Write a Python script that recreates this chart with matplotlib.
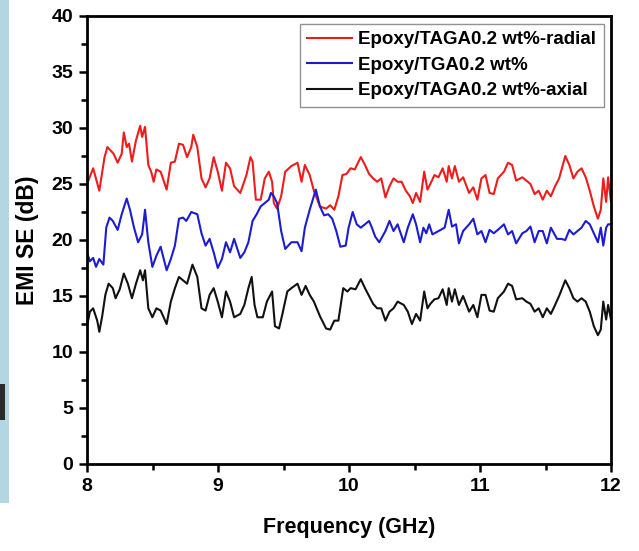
import matplotlib
matplotlib.use("Agg")
import matplotlib.pyplot as plt
from matplotlib.patches import Rectangle
from matplotlib.ticker import MultipleLocator

plt.rcParams['font.family'] = ['Liberation Sans', 'DejaVu Sans']
plt.rcParams['font.weight'] = 'bold'

# ---------------- data ----------------
freq_radial = [8.000, 8.047, 8.094, 8.134, 8.156, 8.203, 8.234, 8.265, 8.281, 8.303, 8.321, 8.343,
               8.374, 8.406, 8.421, 8.443, 8.468, 8.490, 8.509, 8.530, 8.562, 8.608, 8.640, 8.671,
               8.702, 8.733, 8.764, 8.796, 8.811, 8.842, 8.874, 8.905, 8.936, 8.967, 8.998, 9.030,
               9.061, 9.092, 9.123, 9.170, 9.217, 9.248, 9.264, 9.289, 9.326, 9.357, 9.388, 9.413,
               9.426, 9.451, 9.482, 9.513, 9.560, 9.607, 9.638, 9.663, 9.700, 9.732, 9.778, 9.825,
               9.856, 9.888, 9.919, 9.950, 9.981, 10.012, 10.044, 10.090, 10.122, 10.153, 10.184,
               10.215, 10.246, 10.278, 10.309, 10.340, 10.371, 10.402, 10.434, 10.465, 10.487,
               10.512, 10.543, 10.574, 10.599, 10.621, 10.652, 10.683, 10.715, 10.746, 10.761,
               10.786, 10.808, 10.839, 10.871, 10.917, 10.949, 10.980, 11.011, 11.042, 11.073,
               11.105, 11.136, 11.183, 11.214, 11.245, 11.276, 11.323, 11.354, 11.385, 11.417,
               11.448, 11.479, 11.510, 11.541, 11.573, 11.604, 11.651, 11.682, 11.713, 11.744,
               11.775, 11.807, 11.838, 11.869, 11.900, 11.922, 11.941, 11.963, 11.978, 12.000]
se_radial = [25.0, 26.4, 24.4, 27.4, 28.3, 27.7, 26.9, 27.7, 29.6, 28.3, 28.6, 27.0,
             28.9, 30.2, 29.2, 30.1, 26.7, 26.1, 25.2, 26.3, 26.1, 24.5, 26.9, 27.0,
             28.6, 28.5, 27.4, 28.3, 29.4, 28.3, 25.5, 24.7, 25.5, 27.4, 26.1, 24.4,
             26.9, 26.4, 24.8, 24.2, 25.8, 27.4, 27.0, 23.6, 23.6, 25.5, 26.1, 25.2,
             23.3, 22.8, 23.9, 26.1, 26.6, 26.9, 25.2, 26.7, 25.8, 24.4, 23.0, 22.8,
             23.1, 22.7, 23.9, 25.8, 25.9, 26.4, 26.3, 27.4, 26.7, 25.9, 25.5,
             25.2, 25.5, 23.8, 24.8, 25.5, 25.2, 25.2, 24.4, 23.9, 23.3,
             24.2, 23.4, 26.1, 24.5, 25.0, 25.8, 25.6, 26.4, 25.2, 26.6,
             25.5, 26.6, 25.2, 25.6, 24.2, 24.7, 23.6, 25.5, 25.8, 24.2,
             24.1, 25.5, 26.1, 26.9, 26.7, 25.3, 25.6, 25.3, 25.0, 24.1,
             24.4, 23.6, 24.4, 23.9, 24.8, 25.5, 27.5, 26.7, 25.5, 26.1,
             26.4, 25.6, 24.4, 23.0, 21.9, 22.7, 25.5, 23.4, 25.6, 23.4]

freq_tga = [8.000, 8.022, 8.047, 8.069, 8.094, 8.125, 8.147, 8.172, 8.197, 8.234, 8.265, 8.303,
            8.328, 8.359, 8.390, 8.421, 8.443, 8.468, 8.499, 8.530, 8.562, 8.608, 8.640, 8.671,
            8.702, 8.733, 8.758, 8.796, 8.842, 8.874, 8.905, 8.936, 8.967, 8.998, 9.030, 9.061,
            9.092, 9.123, 9.170, 9.201, 9.232, 9.264, 9.295, 9.326, 9.357, 9.388, 9.404, 9.426,
            9.451, 9.482, 9.513, 9.560, 9.607, 9.638, 9.663, 9.700, 9.747, 9.778, 9.810, 9.841,
            9.872, 9.903, 9.934, 9.975, 9.997, 10.028, 10.059, 10.090, 10.122, 10.153, 10.175,
            10.200, 10.231, 10.278, 10.309, 10.340, 10.371, 10.418, 10.449, 10.487, 10.512,
            10.543, 10.568, 10.590, 10.612, 10.637, 10.683, 10.730, 10.761, 10.786, 10.817,
            10.839, 10.871, 10.917, 10.949, 10.980, 11.011, 11.042, 11.073, 11.105, 11.136,
            11.183, 11.214, 11.245, 11.276, 11.323, 11.354, 11.385, 11.417, 11.448, 11.479,
            11.510, 11.541, 11.588, 11.620, 11.651, 11.682, 11.713, 11.744, 11.775, 11.807,
            11.838, 11.869, 11.900, 11.922, 11.941, 11.963, 11.978, 12.000]
se_tga = [18.9, 18.1, 18.4, 17.6, 18.3, 17.8, 21.1, 22.0, 21.7, 20.9, 22.3, 23.7,
          22.7, 21.1, 19.8, 20.5, 22.7, 19.8, 17.6, 18.6, 19.4, 17.3, 18.3, 19.5,
          21.9, 22.0, 21.7, 22.5, 22.3, 20.6, 19.5, 20.1, 18.9, 17.5, 18.3, 19.8,
          18.9, 20.1, 18.4, 18.9, 19.8, 21.7, 22.3, 23.0, 23.3, 23.6, 24.2, 23.9,
          23.3, 20.8, 19.2, 19.8, 19.8, 19.0, 21.1, 22.7, 24.5, 23.0, 22.2, 22.3,
          21.9, 20.8, 19.4, 19.5, 21.1, 22.5, 21.4, 21.1, 21.4, 21.7, 21.1,
          20.3, 19.8, 20.8, 21.7, 20.8, 21.4, 19.8, 21.1, 22.3, 21.4,
          19.8, 21.1, 20.6, 21.4, 20.5, 20.8, 21.1, 22.7, 21.2, 21.4,
          19.7, 20.8, 21.4, 21.9, 20.5, 20.8, 19.8, 20.9, 20.6, 20.9,
          21.4, 20.5, 20.8, 19.7, 20.6, 20.8, 21.2, 19.8, 20.8, 20.8,
          19.7, 21.1, 20.1, 20.1, 20.0, 20.9, 20.5, 20.8, 21.1, 21.7,
          21.4, 20.6, 19.8, 21.1, 19.5, 21.1, 21.4, 21.4]

freq_axial = [8.000, 8.022, 8.047, 8.078, 8.094, 8.116, 8.140, 8.165, 8.197, 8.218, 8.250, 8.281,
              8.312, 8.343, 8.374, 8.406, 8.427, 8.443, 8.468, 8.499, 8.530, 8.562, 8.608, 8.640,
              8.671, 8.702, 8.733, 8.764, 8.805, 8.842, 8.874, 8.905, 8.936, 8.967, 8.998, 9.030,
              9.061, 9.092, 9.123, 9.170, 9.201, 9.232, 9.257, 9.279, 9.301, 9.342, 9.373, 9.413,
              9.435, 9.466, 9.488, 9.529, 9.560, 9.607, 9.638, 9.669, 9.700, 9.732, 9.778, 9.825,
              9.856, 9.888, 9.919, 9.956, 9.988, 10.012, 10.050, 10.090, 10.122, 10.153, 10.184,
              10.215, 10.246, 10.278, 10.309, 10.340, 10.371, 10.418, 10.449, 10.480, 10.512,
              10.543, 10.574, 10.599, 10.621, 10.652, 10.683, 10.715, 10.746, 10.761, 10.786,
              10.808, 10.839, 10.871, 10.917, 10.949, 10.980, 11.011, 11.042, 11.073, 11.105,
              11.136, 11.183, 11.214, 11.245, 11.276, 11.323, 11.354, 11.385, 11.417, 11.448,
              11.479, 11.510, 11.541, 11.573, 11.604, 11.651, 11.682, 11.713, 11.744, 11.775,
              11.807, 11.838, 11.869, 11.900, 11.922, 11.941, 11.963, 11.978, 12.000]
se_axial = [12.3, 13.6, 13.9, 12.8, 11.8, 13.2, 15.1, 16.1, 15.7, 14.8, 15.6, 17.0,
            16.1, 14.8, 16.1, 17.3, 16.4, 17.3, 13.9, 13.1, 13.9, 13.7, 12.5, 14.5,
            15.7, 16.7, 16.4, 16.1, 17.8, 16.7, 13.9, 13.7, 15.1, 15.7, 14.5, 13.1,
            15.4, 14.5, 13.1, 13.4, 14.2, 15.7, 16.7, 14.2, 13.1, 13.1, 14.5, 15.4,
            12.3, 12.1, 13.2, 15.4, 15.7, 16.1, 15.1, 15.9, 15.1, 14.5, 13.2, 12.1,
            12.0, 12.8, 12.8, 15.7, 15.4, 15.7, 15.6, 16.5, 15.7, 15.0, 14.3,
            13.9, 13.9, 12.8, 13.6, 13.9, 14.5, 14.2, 13.6, 12.5, 13.4,
            12.8, 15.4, 13.9, 14.3, 14.7, 14.8, 15.6, 14.2, 15.7, 14.5,
            15.6, 14.2, 15.0, 13.6, 14.2, 13.1, 15.1, 15.1, 13.7, 13.6,
            14.8, 15.4, 16.1, 15.9, 14.7, 14.8, 14.5, 14.3, 13.6, 13.9,
            13.1, 13.9, 13.4, 14.2, 15.0, 16.4, 15.7, 14.8, 14.5, 14.8,
            14.5, 13.6, 12.3, 11.5, 12.0, 14.5, 12.9, 14.2, 12.9]

labels = ['Epoxy/TAGA0.2 wt%-radial', 'Epoxy/TGA0.2 wt%', 'Epoxy/TAGA0.2 wt%-axial']
colors = ['#f01c1c', '#1c1cd0', '#111111']

# ---------------- figure ----------------
W, H = 639, 551
fig = plt.figure(figsize=(W / 100, H / 100), dpi=100)

# slide background strip on the left edge
fig.patches.append(Rectangle((0, 1 - 503 / H), 9 / W, 503 / H, transform=fig.transFigure,
                             facecolor='#b3d7e2', edgecolor='none', zorder=0))
fig.patches.append(Rectangle((0, 1 - 420 / H), 5 / W, 36 / H, transform=fig.transFigure,
                             facecolor='#2a2a2a', edgecolor='none', zorder=1))

ax = fig.add_axes([87 / W, 1 - 464 / H, 524 / W, 448 / H])

for f, s, lab, c in zip([freq_radial, freq_tga, freq_axial],
                        [se_radial, se_tga, se_axial], labels, colors):
    ax.plot(f, s, color=c, lw=1.5, label=lab)

ax.set_xlim(8, 12)
ax.set_ylim(0, 40)
ax.xaxis.set_major_locator(MultipleLocator(1))
ax.xaxis.set_minor_locator(MultipleLocator(0.5))
ax.yaxis.set_major_locator(MultipleLocator(5))
ax.yaxis.set_minor_locator(MultipleLocator(2.5))
ax.tick_params(which='major', direction='out', length=6, width=1.8, labelsize=14, pad=4)
ax.tick_params(which='minor', direction='out', length=4, width=1.8)
ax.tick_params(top=False, right=False)
for sp in ax.spines.values():
    sp.set_linewidth(2)
for t in ax.get_xticklabels() + ax.get_yticklabels():
    t.set_fontweight('bold')

ax.set_xlabel('Frequency (GHz)', fontsize=15.5, fontweight='bold', labelpad=16)
ax.set_ylabel('EMI SE (dB)', fontsize=16.5, fontweight='bold', labelpad=9)

leg = ax.legend(loc='upper right', fontsize=13.5, frameon=True, fancybox=False,
                edgecolor='#777777', handlelength=2.4, handletextpad=0.3,
                borderaxespad=0.4, labelspacing=0.45, borderpad=0.4)
leg.get_frame().set_linewidth(1.0)
for t in leg.get_texts():
    t.set_fontweight('bold')

fig.savefig('out.png', dpi=100)
